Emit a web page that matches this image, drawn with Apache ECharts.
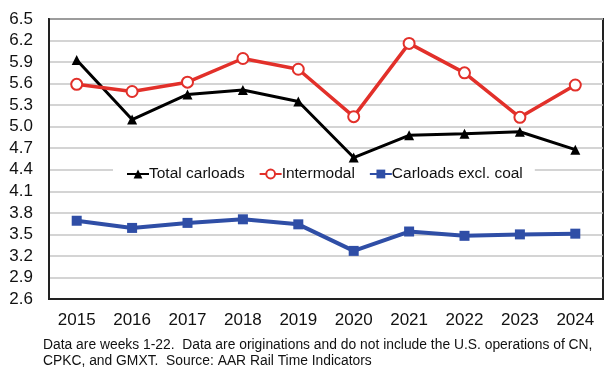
<!DOCTYPE html>
<html><head><meta charset="utf-8">
<script src="https://cdn.jsdelivr.net/npm/echarts@6/dist/echarts.min.js"></script>
<style>html,body{margin:0;padding:0;background:#fff}#c{width:614px;height:371px}</style>
</head><body><div id="c"></div>
<script>
const years = ['2015','2016','2017','2018','2019','2020','2021','2022','2023','2024'];
const totalCarloads = [5.93, 5.10, 5.45, 5.51, 5.35, 4.57, 4.88, 4.90, 4.93, 4.68];
const intermodal = [5.59, 5.49, 5.62, 5.95, 5.80, 5.14, 6.16, 5.75, 5.13, 5.58];
const exclCoal = [3.69, 3.59, 3.66, 3.71, 3.64, 3.27, 3.54, 3.48, 3.50, 3.51];
const yMin = 2.6, yMax = 6.5, yStep = 0.3;
const footnote = 'Data are weeks 1-22.  Data are originations and do not include the U.S. operations of CN,\nCPKC, and GMXT.  Source: AAR Rail Time Indicators';

const font = '"Liberation Sans", Arial, sans-serif';
const chart = echarts.init(document.getElementById('c'), null, {renderer: 'canvas'});
chart.setOption({
  animation: false,
  backgroundColor: '#fff',
  textStyle: {fontFamily: font},
  grid: {left: 49, top: 19, right: 11, bottom: 72, show: true, borderColor: '#222', borderWidth: 2, backgroundColor: 'transparent'},
  legend: {
    left: 113, top: 163, width: 440,
    backgroundColor: '#fff',
    padding: [3, 12, 3, 13],
    itemGap: 14, itemWidth: 22, itemHeight: 11,
    textStyle: {fontFamily: font, fontSize: 15.5, color: '#111', padding: [0,0,0,-5]},
    data: ['Total carloads', 'Intermodal', 'Carloads excl. coal']
  },
  xAxis: {
    type: 'category', data: years, boundaryGap: true,
    axisLine: {show: true, lineStyle: {color: '#222', width: 2}},
    axisTick: {show: false},
    axisLabel: {fontSize: 17, color: '#111', margin: 13, fontFamily: font}
  },
  yAxis: {
    type: 'value', min: yMin, max: yMax, interval: yStep,
    axisLine: {show: true, lineStyle: {color: '#222', width: 2}},
    axisTick: {show: false},
    splitLine: {show: true, lineStyle: {color: '#c6c6c6', width: 1.5}},
    axisLabel: {fontSize: 17, color: '#111', margin: 16, fontFamily: font, formatter: v => v.toFixed(1)}
  },
  series: [
    {name: 'Total carloads', type: 'line', data: totalCarloads, z: 3,
     lineStyle: {color: '#000', width: 3}, itemStyle: {color: '#000'},
     symbol: 'triangle', symbolSize: 10},
    {name: 'Intermodal', type: 'line', data: intermodal, z: 4,
     lineStyle: {color: '#e2302a', width: 3.5}, itemStyle: {color: '#fff', borderColor: '#e2302a', borderWidth: 2},
     symbol: 'circle', symbolSize: 11},
    {name: 'Carloads excl. coal', type: 'line', data: exclCoal, z: 3,
     lineStyle: {color: '#2f4ea6', width: 4}, itemStyle: {color: '#2f4ea6'},
     symbol: 'rect', symbolSize: 10}
  ],
  graphic: [{
    type: 'text', left: 43, top: 337,
    style: {text: footnote, fontSize: 13.85, lineHeight: 16, fill: '#111', fontFamily: font}
  }]
});
</script></body></html>
